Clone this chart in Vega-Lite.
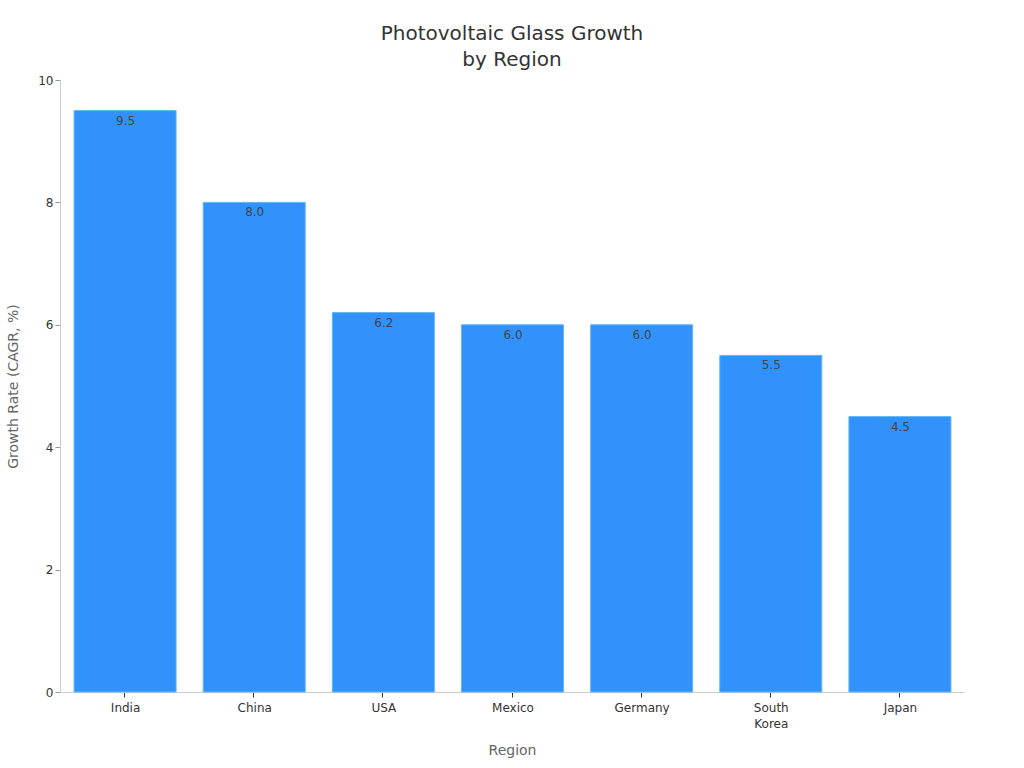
{
  "$schema": "https://vega.github.io/schema/vega-lite/v6.json",
  "width": 904,
  "height": 612,
  "autosize": {"type": "none"},
  "padding": {"left": 60, "top": 80, "right": 60, "bottom": 76},
  "background": "#ffffff",
  "title": {
    "text": ["Photovoltaic Glass Growth", "by Region"],
    "anchor": "middle",
    "font": "DejaVu Sans",
    "fontSize": 20,
    "fontWeight": "normal",
    "color": "#333333",
    "lineHeight": 26,
    "offset": 4
  },
  "data": {
    "values": [
      {"region": "India", "rate": 9.5},
      {"region": "China", "rate": 8.0},
      {"region": "USA", "rate": 6.2},
      {"region": "Mexico", "rate": 6.0},
      {"region": "Germany", "rate": 6.0},
      {"region": "South Korea", "rate": 5.5},
      {"region": "Japan", "rate": 4.5}
    ]
  },
  "config": {
    "view": {"stroke": null},
    "font": "DejaVu Sans"
  },
  "encoding": {
    "x": {
      "field": "region",
      "type": "nominal",
      "sort": null,
      "title": "Region",
      "scale": {"paddingInner": 0.21, "paddingOuter": 0.105},
      "axis": {
        "labelAngle": 0,
        "labelFontSize": 12,
        "labelColor": "#333333",
        "labelPadding": 5,
        "labelOffset": 1,
        "labelExpr": "split(datum.label, ' ')",
        "labelLineHeight": 16,
        "tickColor": "#333333",
        "tickSize": 5,
        "domainColor": "#cccccc",
        "titleFontSize": 14,
        "titleFontWeight": "normal",
        "titleColor": "#666666",
        "titlePadding": 14,
        "grid": false
      }
    },
    "y": {
      "field": "rate",
      "type": "quantitative",
      "title": "Growth Rate (CAGR, %)",
      "scale": {"domain": [0, 10]},
      "axis": {
        "values": [0, 2, 4, 6, 8, 10],
        "labelFontSize": 12,
        "labelColor": "#333333",
        "tickColor": "#999999",
        "tickSize": 5,
        "domainColor": "#cccccc",
        "titleFontSize": 14,
        "titleFontWeight": "normal",
        "titleColor": "#666666",
        "titlePadding": 17,
        "grid": false
      }
    }
  },
  "layer": [
    {"mark": {"type": "bar", "fill": "#3092fa", "stroke": "#64b5f6", "strokeWidth": 1, "xOffset": 0.5}},
    {
      "mark": {"type": "text", "baseline": "top", "dy": 5, "dx": 1, "fontSize": 12, "color": "#444444"},
      "encoding": {"text": {"field": "rate", "type": "quantitative", "format": ".1f"}}
    }
  ]
}
